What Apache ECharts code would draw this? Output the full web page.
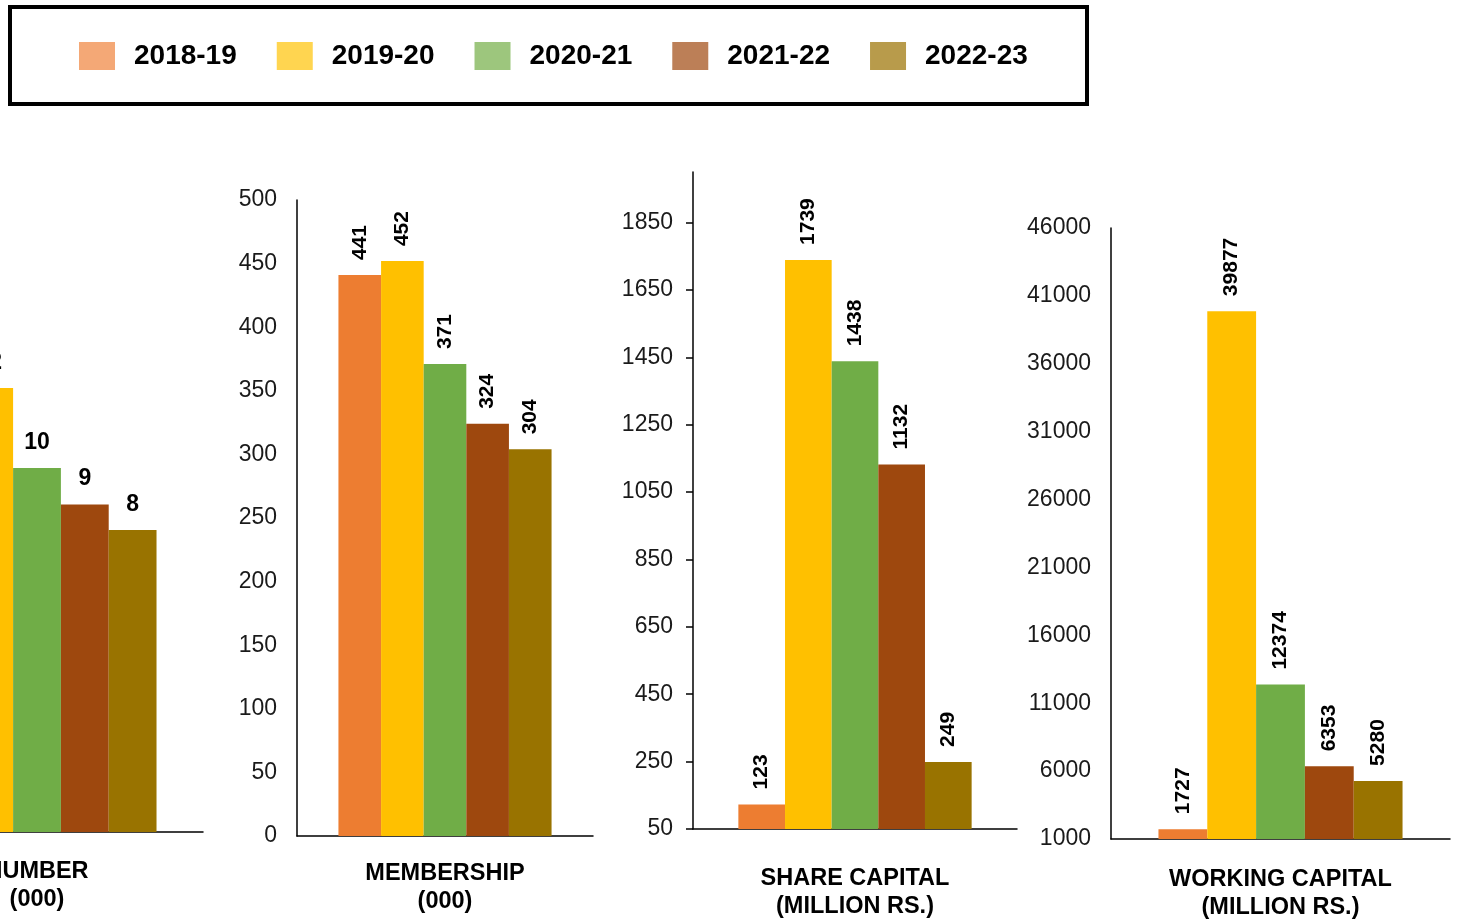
<!DOCTYPE html>
<html>
<head>
<meta charset="utf-8">
<script src="https://cdn.jsdelivr.net/npm/echarts@6/dist/echarts.min.js"></script>
<style>
    html, body { margin: 0; padding: 0; background: #fff; }
    #main { width: 1458px; height: 921px; }
</style>
</head>
<body>
<div id="main"></div>
<script>
    // data
    var years = ['2018-19', '2019-20', '2020-21', '2021-22', '2022-23'];
    var numberVals = [13, 12.2, 10, 9, 8.3];
    var membershipVals = [441, 452, 371, 324, 304];
    var shareCapitalVals = [123, 1739, 1438, 1132, 249];
    var workingCapitalVals = [1727, 39877, 12374, 6353, 5280];
    var panelNames = ['NUMBER\n(000)', 'MEMBERSHIP\n(000)', 'SHARE CAPITAL\n(MILLION RS.)', 'WORKING CAPITAL\n(MILLION RS.)'];

    var barColors = ['#ED7D31', '#FFC000', '#70AD47', '#9E480E', '#997300'];
    var legendColors = ['#F4A876', '#FFD550', '#9DC67D', '#BC7F57', '#B89B4B'];
    var font = "'Liberation Sans', Arial, sans-serif";

    var chart = echarts.init(document.getElementById('main'));

    // first panel is partly outside the picture on the left
    var grids = [
        { left: -129, width: 332, top: 177, height: 655, outerBoundsMode: 'none' },
        { left: 297, width: 296, top: 200, height: 636, outerBoundsMode: 'none' },
        { left: 693, width: 324, top: 172, height: 657, outerBoundsMode: 'none' },
        { left: 1111, width: 339, top: 228, height: 611, outerBoundsMode: 'none' }
    ];
    var yRanges = [
        { min: 0, max: 18, interval: 2, ticks: false },
        { min: 0, max: 500, interval: 50, ticks: false },
        { min: 50, max: 2000, interval: 200, ticks: true, hideMax: true },
        { min: 1000, max: 46000, interval: 5000, ticks: false }
    ];
    var nameMargins = [26, 24, 36, 27];
    var allVals = [numberVals, membershipVals, shareCapitalVals, workingCapitalVals];

    var axisLine = { show: true, lineStyle: { color: '#000', width: 1.5 } };

    var xAxes = [], yAxes = [], series = [];
    for (var g = 0; g < 4; g++) {
        xAxes.push({
            type: 'category',
            gridIndex: g,
            data: [panelNames[g]],
            axisLine: axisLine,
            axisTick: { show: false },
            axisLabel: {
                color: '#000', fontFamily: font, fontSize: 23.5, fontWeight: 'bold',
                lineHeight: 28, margin: nameMargins[g]
            }
        });
        yAxes.push({
            type: 'value',
            gridIndex: g,
            min: yRanges[g].min,
            max: yRanges[g].max,
            interval: yRanges[g].interval,
            axisLine: axisLine,
            axisTick: { show: yRanges[g].ticks, length: 7, lineStyle: { color: '#000', width: 1.5 } },
            splitLine: { show: false },
            axisLabel: {
                color: '#1a1a1a', fontFamily: font, fontSize: 23, margin: 20,
                showMaxLabel: !yRanges[g].hideMax,
                formatter: function (v) { return String(v); }
            }
        });
        for (var i = 0; i < years.length; i++) {
            var label = g === 0 ? {
                show: true, position: 'top', distance: 14,
                color: '#000', fontFamily: font, fontSize: 23, fontWeight: 'bold',
                formatter: function (p) { return Math.round(p.value); }
            } : {
                show: true, position: 'top', rotate: 90, align: 'left', verticalAlign: 'middle',
                distance: 15, color: '#000', fontFamily: font, fontSize: 21, fontWeight: 'bold'
            };
            series.push({
                name: years[i],
                type: 'bar',
                xAxisIndex: g,
                yAxisIndex: g,
                data: [allVals[g][i]],
                barGap: '0%',
                barCategoryGap: '28%',
                itemStyle: { color: barColors[i] },
                label: label
            });
        }
    }

    var option = {
        animation: false,
        backgroundColor: '#fff',
        legend: {
            left: 74,
            top: 37,
            itemWidth: 36,
            itemHeight: 28,
            itemGap: 40,
            icon: 'rect',
            textStyle: {
                color: '#000', fontFamily: font, fontSize: 28, fontWeight: 'bold',
                padding: [0, 0, 0, 14]
            },
            data: years.map(function (y, i) {
                return { name: y, itemStyle: { color: legendColors[i] } };
            })
        },
        graphic: [{
            type: 'rect',
            shape: { x: 10, y: 7, width: 1077, height: 97 },
            style: { fill: 'none', stroke: '#000', lineWidth: 4 }
        }],
        grid: grids,
        xAxis: xAxes,
        yAxis: yAxes,
        series: series
    };

    chart.setOption(option);
</script>
</body>
</html>
